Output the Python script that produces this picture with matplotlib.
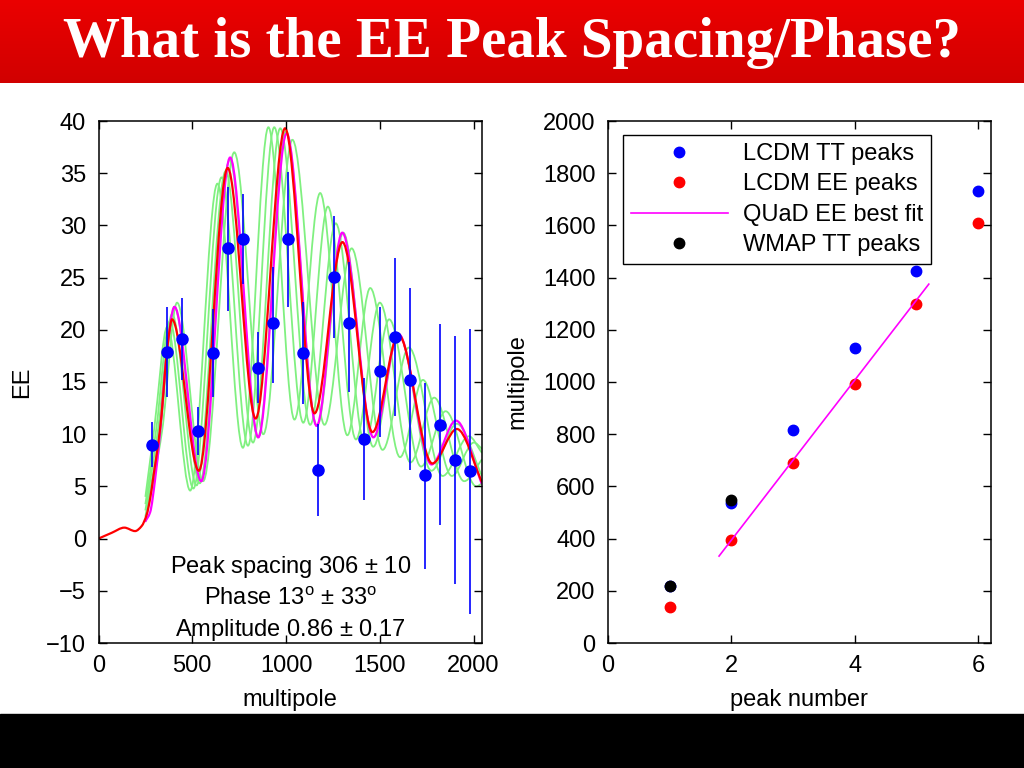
import numpy as np
import matplotlib
matplotlib.use("Agg")
import matplotlib.pyplot as plt
from matplotlib.path import Path
from matplotlib.patches import PathPatch, Rectangle

plt.rcParams['font.family'] = ['Liberation Sans', 'DejaVu Sans']
plt.rcParams['mathtext.fontset'] = 'custom'
plt.rcParams['mathtext.rm'] = 'Liberation Sans'
plt.rcParams['font.size'] = 17

# ---- left panel: EE spectrum ----
# LCDM EE model (red), knots
red_l = [0, 70, 138, 195, 230, 257, 275, 293, 319, 337, 355, 373, 392, 535, 689,
         838, 995, 1152, 1301, 1461, 1600, 1780, 1911, 2045]
red_ee = [0, 0.55, 1.05, 0.72, 1.2, 2.3, 3.8, 6.0, 9.2, 12.0, 16.0, 19.2, 21.0, 6.5, 35.5,
          11.5, 39.3, 12.0, 28.4, 10.2, 19.5, 7.2, 10.5, 5.4]

# QUaD best fit (magenta)
fit_l = [248, 275, 302, 328, 346, 364, 405, 548, 702, 852, 1003, 1163, 1300, 1466,
         1600, 1776, 1906, 2045]
fit_ee = [1.6, 2.5, 5.7, 10.1, 14.0, 17.8, 22.2, 5.5, 36.5, 9.7, 38.8, 10.8, 29.3, 9.7,
          19.6, 7.1, 11.3, 5.2]

# family of models with other peak spacings (green)
g1_l = [250, 297, 367, 489, 634, 770, 906, 1045, 1182, 1327, 1449, 1608, 1730, 1884, 2002, 2045]
g1_ee = [4.0, 10.5, 20.3, 4.6, 34.0, 8.7, 39.4, 11.4, 33.1, 9.9, 24.0, 7.8, 15.2, 6.0, 9.2, 8.6]
g2_l = [250, 308, 380, 506, 656, 797, 937, 1092, 1223, 1373, 1500, 1664, 1790, 1950, 2045]
g2_ee = [3.3, 10.5, 20.8, 4.8, 34.6, 8.9, 39.4, 11.1, 31.8, 9.5, 22.6, 7.3, 13.5, 5.5, 7.6]
g3_l = [250, 318, 392, 523, 678, 824, 969, 1129, 1265, 1420, 1550, 1720, 1851, 2015, 2045]
g3_ee = [2.7, 10.5, 21.5, 5.1, 35.2, 9.2, 39.3, 10.9, 30.2, 9.1, 21.0, 6.9, 12.2, 5.0, 5.3]
g4_l = [250, 328, 405, 540, 700, 850, 1000, 1165, 1305, 1465, 1600, 1775, 1910, 2045]
g4_ee = [2.1, 10.3, 22.2, 5.3, 36.3, 9.7, 39.0, 10.8, 29.3, 8.8, 19.6, 6.5, 11.0, 6.0]
g5_l = [250, 339, 419, 558, 724, 879, 1034, 1205, 1350, 1515, 1655, 1835, 1975, 2045]
g5_ee = [1.6, 10.3, 22.6, 5.5, 37.0, 10.0, 38.2, 10.9, 27.8, 8.5, 18.3, 6.0, 9.8, 8.2]

# QUaD EE band powers
data_l = [287, 367, 447, 529, 609, 689, 771, 849, 932, 1010, 1093, 1173, 1257, 1337,
          1417, 1499, 1579, 1659, 1742, 1820, 1902, 1982]
data_ee = [9.0, 17.85, 19.1, 10.3, 17.75, 27.8, 28.7, 16.3, 20.65, 28.7, 17.8, 6.6, 25.05, 20.66,
           9.57, 16.1, 19.3, 15.2, 6.1, 10.9, 7.53, 6.45]
data_lo = [6.9, 13.6, 15.2, 8.0, 13.6, 21.8, 24.4, 13.0, 14.9, 22.2, 12.9, 2.2, 19.2, 14.0,
           3.7, 9.7, 11.7, 6.6, -2.9, 1.3, -4.35, -7.2]
data_hi = [11.2, 22.2, 23.0, 12.6, 22.0, 33.7, 33.0, 19.8, 26.0, 35.1, 22.7, 11.0, 30.9, 26.5,
           15.4, 22.2, 26.9, 24.0, 14.9, 20.6, 19.4, 20.1]

# ---- right panel: peak positions ----
tt_n = [1, 2, 3, 4, 5, 6]
tt_l = [220, 535, 816, 1129, 1425, 1732]
ee_n = [1, 2, 3, 4, 5, 6]
ee_l = [137, 395, 691, 991, 1300, 1608]
wmap_n = [1, 2]
wmap_l = [218, 548]
line_n = [1.8, 5.2]
line_l = [333, 1375]


def smooth(ax, x, y, **kw):
    # monotone cubic through the knots, drawn as bezier path
    x = np.asarray(x, float)
    y = np.asarray(y, float)
    h = np.diff(x)
    d = np.diff(y) / h
    m = np.zeros_like(y)
    for i in range(1, len(y) - 1):
        if d[i - 1] * d[i] > 0:
            w1 = 2 * h[i] + h[i - 1]
            w2 = h[i] + 2 * h[i - 1]
            m[i] = (w1 + w2) / (w1 / d[i - 1] + w2 / d[i])
    m[0] = d[0]
    m[-1] = d[-1]
    verts = [(x[0], y[0])]
    codes = [Path.MOVETO]
    for i in range(len(h)):
        verts += [(x[i] + h[i] / 3, y[i] + m[i] * h[i] / 3),
                  (x[i + 1] - h[i] / 3, y[i + 1] - m[i + 1] * h[i] / 3),
                  (x[i + 1], y[i + 1])]
        codes += [Path.CURVE4] * 3
    ax.add_patch(PathPatch(Path(verts, codes), fill=False, **kw))


fig = plt.figure(figsize=(10.24, 7.68), dpi=100)

# banner
bax = fig.add_axes([0, 1 - 83 / 768, 1, 83 / 768])
grad = np.linspace(0, 1, 50)[:, None]
bax.imshow(np.dstack([0.92 - 0.1 * grad, 0 * grad, 0 * grad]), aspect='auto',
           extent=[0, 1, 0, 1])
bax.set_axis_off()
bax.text(0.5, 0.48, "What is the EE Peak Spacing/Phase?", color='white',
         family='Liberation Serif', weight='bold', fontsize=41,
         ha='center', va='center', transform=bax.transAxes)
fig.patches.append(Rectangle((0, 0), 1, 54 / 768, transform=fig.transFigure,
                             color='black', zorder=0))

ax1 = fig.add_axes([98.5 / 1024, 125 / 768, 383.5 / 1024, 522 / 768])
for gl, ge in [(g1_l, g1_ee), (g2_l, g2_ee), (g3_l, g3_ee), (g4_l, g4_ee), (g5_l, g5_ee)]:
    smooth(ax1, gl, ge, edgecolor='#80f080', lw=1.3)
smooth(ax1, fit_l, fit_ee, edgecolor='magenta', lw=1.6)
smooth(ax1, red_l, red_ee, edgecolor='red', lw=1.6)
yerr = [np.array(data_ee) - np.array(data_lo), np.array(data_hi) - np.array(data_ee)]
ax1.errorbar(data_l, data_ee, yerr=yerr, fmt='o', color='blue', ms=8,
             elinewidth=1.2, capsize=0, zorder=5)
ax1.set_xlim(0, 2045)
ax1.set_ylim(-10, 40)
ax1.set_xticks([0, 500, 1000, 1500, 2000])
ax1.set_yticks(range(-10, 41, 5))
ax1.set_yticklabels([('\u2212' + str(-v)) if v < 0 else str(v) for v in range(-10, 41, 5)])
ax1.set_xlabel("multipole", labelpad=8)
ax1.set_ylabel("EE")
ax1.yaxis.set_label_coords(-0.171, 0.5)
ax1.text(0.5, 0.145, "Peak spacing 306 $\\pm$ 10", transform=ax1.transAxes, ha='center', va='center')
ax1.text(0.5, 0.085, "Phase 13$^\\mathrm{o}$ $\\pm$ 33$^\\mathrm{o}$", transform=ax1.transAxes,
         ha='center', va='center')
ax1.text(0.5, 0.025, "Amplitude 0.86 $\\pm$ 0.17", transform=ax1.transAxes, ha='center', va='center')

ax2 = fig.add_axes([608 / 1024, 125 / 768, 382.5 / 1024, 522 / 768])
ax2.plot(tt_n, tt_l, 'o', color='blue', ms=7.5, label="LCDM TT peaks")
ax2.plot(ee_n, ee_l, 'o', color='red', ms=7.5, label="LCDM EE peaks")
ax2.plot(line_n, line_l, '-', color='magenta', lw=1.2, label="QUaD EE best fit")
ax2.plot(wmap_n, wmap_l, 'o', color='black', ms=7.5, label="WMAP TT peaks")
ax2.set_xlim(0, 6.2)
ax2.set_ylim(0, 2000)
ax2.set_xticks([0, 2, 4, 6])
ax2.set_yticks(range(0, 2001, 200))
ax2.set_xlabel("peak number", labelpad=8)
ax2.set_ylabel("multipole")
ax2.yaxis.set_label_coords(-0.207, 0.5)
leg = ax2.legend(loc='upper left', bbox_to_anchor=(0.039, 0.973), borderaxespad=0,
                 handlelength=4.1, handletextpad=0.65, borderpad=0.33, labelspacing=0.36,
                 fancybox=False, edgecolor='black', framealpha=1, fontsize=17)
leg.get_frame().set_linewidth(1.0)

for ax in (ax1, ax2):
    ax.tick_params(direction='in', top=True, right=True, length=6, width=1, pad=9)
    for s in ax.spines.values():
        s.set_linewidth(1.1)

fig.savefig("out.png", dpi=100)
